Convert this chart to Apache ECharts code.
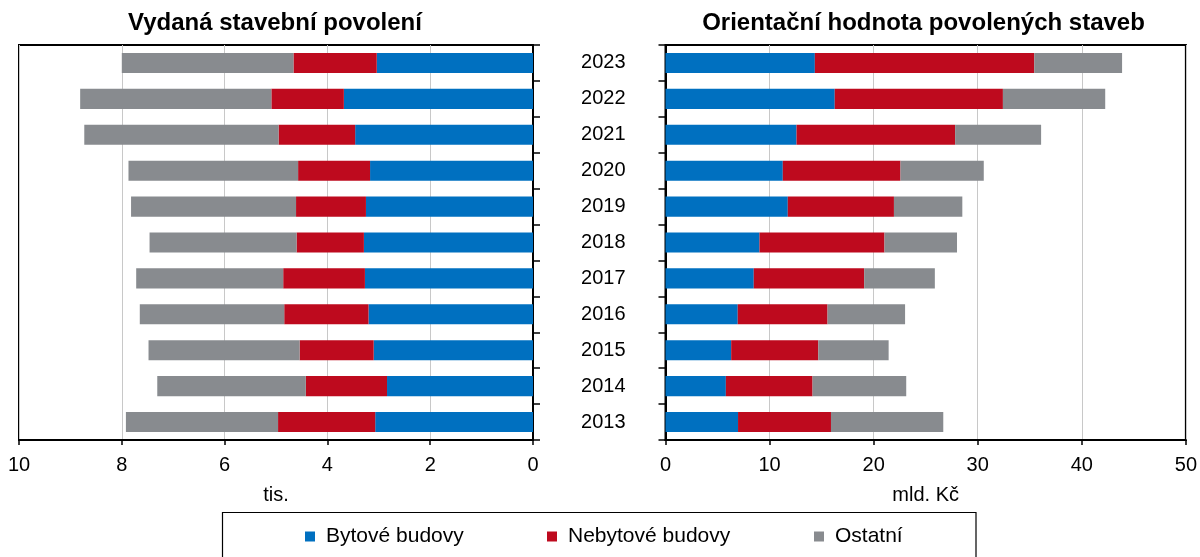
<!DOCTYPE html>
<html>
<head>
<meta charset="utf-8">
<script src="https://cdn.jsdelivr.net/npm/echarts@6/dist/echarts.min.js"></script>
<style>html,body{margin:0;padding:0;background:#fff;}#c{width:1200px;height:557px;}</style>
</head>
<body>
<div id="c"></div>
<script>
const years = ['2013','2014','2015','2016','2017','2018','2019','2020','2021','2022','2023'];
// Vydaná stavební povolení (tis.)
const permitsResidential = [3.07, 2.84, 3.10, 3.20, 3.27, 3.29, 3.25, 3.17, 3.46, 3.68, 3.04];
const permitsNonResidential = [1.89, 1.58, 1.44, 1.64, 1.59, 1.31, 1.36, 1.40, 1.49, 1.41, 1.62];
const permitsOther = [2.96, 2.89, 2.94, 2.81, 2.86, 2.86, 3.21, 3.30, 3.78, 3.72, 3.34];
// Orientační hodnota povolených staveb (mld. Kč)
const valueResidential = [6.97, 5.80, 6.31, 6.94, 8.48, 9.03, 11.75, 11.27, 12.59, 16.26, 14.35];
const valueNonResidential = [8.93, 8.33, 8.37, 8.63, 10.61, 12.01, 10.20, 11.31, 15.24, 16.16, 21.08];
const valueOther = [10.79, 9.00, 6.76, 7.45, 6.79, 6.97, 6.57, 8.00, 8.26, 9.83, 8.44];
const seriesNames = ['Bytové budovy', 'Nebytové budovy', 'Ostatní'];
const colors = ['#0070C0', '#BE0A1E', '#888B8F'];

const font = 'Liberation Sans, Arial, sans-serif';
const chart = echarts.init(document.getElementById('c'));

function mkSeries(name, data, color, axisIdx, stack) {
  return {
    name: name, type: 'bar', stack: stack, data: data,
    xAxisIndex: axisIdx, yAxisIndex: axisIdx,
    barCategoryGap: '44%',
    itemStyle: { color: color },
    emphasis: { disabled: true },
    animation: false
  };
}
function mkLegend(name, left) {
  return { data: [name], left: left, top: 526, padding: 0, itemWidth: 10, itemHeight: 10,
    icon: 'rect', selectedMode: false,
    textStyle: { fontFamily: font, fontSize: 21, color: '#000', padding: [0, 0, 0, 6] } };
}
const axisLabelStyle = { fontFamily: font, fontSize: 20, color: '#000' };

chart.setOption({
  animation: false,
  textStyle: { fontFamily: font },
  title: [
    { text: 'Vydaná stavební povolení', left: 270, top: 6, textAlign: 'center',
      textStyle: { fontFamily: font, fontSize: 24, fontWeight: 'bold', color: '#000' } },
    { text: 'Orientační hodnota povolených staveb', left: 918.5, top: 6, textAlign: 'center',
      textStyle: { fontFamily: font, fontSize: 24, fontWeight: 'bold', color: '#000' } }
  ],
  grid: [
    { left: 19, right: 667, top: 45, bottom: 117, show: true, borderColor: '#000', borderWidth: 2, backgroundColor: 'transparent' },
    { left: 665.5, right: 14, top: 45, bottom: 117, show: true, borderColor: '#000', borderWidth: 2, backgroundColor: 'transparent' }
  ],
  xAxis: [
    { type: 'value', gridIndex: 0, min: 0, max: 10, interval: 2, inverse: true,
      name: 'tis.', nameLocation: 'middle', nameGap: 45,
      nameTextStyle: axisLabelStyle,
      axisLine: { show: true, lineStyle: { color: '#000', width: 2 } },
      axisTick: { show: true, length: 5, lineStyle: { color: '#000', width: 1.5 } },
      axisLabel: Object.assign({ margin: 15 }, axisLabelStyle),
      splitLine: { show: true, lineStyle: { color: '#C8C8C8', width: 1 } } },
    { type: 'value', gridIndex: 1, min: 0, max: 50, interval: 10,
      name: 'mld. Kč', nameLocation: 'middle', nameGap: 45,
      nameTextStyle: axisLabelStyle,
      axisLine: { show: true, lineStyle: { color: '#000', width: 2 } },
      axisTick: { show: true, length: 5, lineStyle: { color: '#000', width: 1.5 } },
      axisLabel: Object.assign({ margin: 15 }, axisLabelStyle),
      splitLine: { show: true, lineStyle: { color: '#C8C8C8', width: 1 } } }
  ],
  yAxis: [
    { type: 'category', gridIndex: 0, data: years, position: 'right',
      axisLine: { show: true, lineStyle: { color: '#000', width: 2 } },
      axisTick: { show: true, length: 7, alignWithLabel: false, lineStyle: { color: '#000', width: 1.5 } },
      axisLabel: { show: false },
      splitLine: { show: false } },
    { type: 'category', gridIndex: 1, data: years, position: 'left',
      axisLine: { show: true, lineStyle: { color: '#000', width: 2 } },
      axisTick: { show: true, length: 7, alignWithLabel: false, lineStyle: { color: '#000', width: 1.5 } },
      axisLabel: Object.assign({ margin: 40 }, axisLabelStyle),
      splitLine: { show: false } }
  ],
  legend: [
    mkLegend(seriesNames[0], 305),
    mkLegend(seriesNames[1], 547),
    mkLegend(seriesNames[2], 814)
  ],
  graphic: [
    { type: 'rect', shape: { x: 222.5, y: 512.5, width: 753.5, height: 60 },
      style: { fill: 'none', stroke: '#000', lineWidth: 1.2 }, silent: true }
  ],
  series: [
    mkSeries(seriesNames[0], permitsResidential, colors[0], 0, 'a'),
    mkSeries(seriesNames[1], permitsNonResidential, colors[1], 0, 'a'),
    mkSeries(seriesNames[2], permitsOther, colors[2], 0, 'a'),
    mkSeries(seriesNames[0], valueResidential, colors[0], 1, 'b'),
    mkSeries(seriesNames[1], valueNonResidential, colors[1], 1, 'b'),
    mkSeries(seriesNames[2], valueOther, colors[2], 1, 'b')
  ]
});
</script>
</body>
</html>
